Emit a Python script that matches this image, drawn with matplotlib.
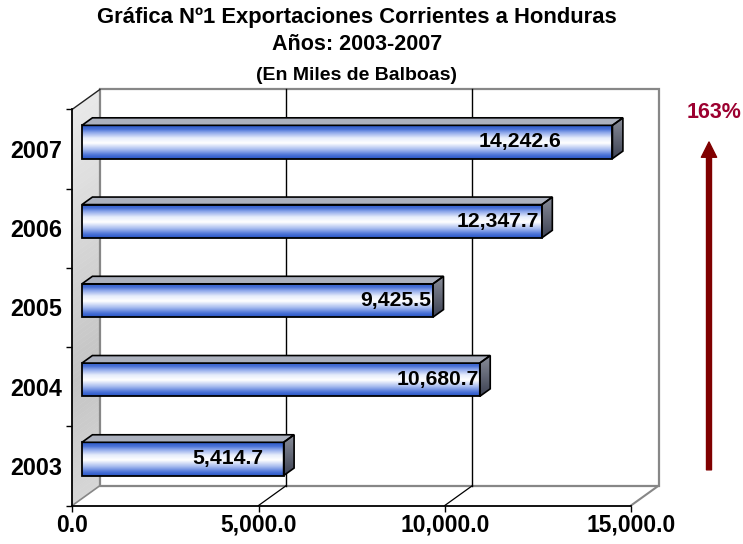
import matplotlib.pyplot as plt
import numpy as np
from matplotlib.colors import LinearSegmentedColormap
from matplotlib.patches import Polygon, Rectangle
from matplotlib.ticker import FuncFormatter
from matplotlib.transforms import blended_transform_factory

# datos
years = ['2003', '2004', '2005', '2006', '2007']
valores = [5414.7, 10680.7, 9425.5, 12347.7, 14242.6]
x_ticks = [0, 5000, 10000, 15000]
titulo = ['Gráfica Nº1 Exportaciones Corrientes a Honduras',
          'Años: 2003-2007',
          '(En Miles de Balboas)']

# separacion de las etiquetas respecto al final de la barra (px)
label_gap = [20, 1, 2, 3, 51]

plt.rcParams['font.family'] = ['Liberation Sans', 'DejaVu Sans']
plt.rcParams['font.weight'] = 'bold'

W, H = 743, 544
fig = plt.figure(figsize=(W / 100, H / 100), dpi=100)
ax = fig.add_axes([72.3 / W, 1 - 505.5 / H, (631 - 72.3) / W, (505.5 - 109.3) / H])
ax.patch.set_visible(False)

n = len(years)
xmax = x_ticks[-1]
DX, DY = 740, 0.25       # profundidad del efecto 3D
f1, f2 = 0.35, 0.73      # posicion de las barras en la profundidad
bh = 0.42

# pared izquierda con degradado (franjas)
wall_cmap = LinearSegmentedColormap.from_list(
    'wall', [(0, '#d6d6d6'), (0.3, '#c4c4c4'), (0.6, '#d4d4d4'), (1, '#e9e9e9')])
ys = np.linspace(0, n, 80)
for k in range(len(ys) - 1):
    ya, yb = ys[k], ys[k + 1]
    ax.add_patch(Polygon([(0, ya), (0, yb), (DX, yb + DY), (DX, ya + DY)], closed=True,
                         facecolor=wall_cmap(ya / n), edgecolor=wall_cmap(ya / n), lw=0.3,
                         zorder=0.5, clip_on=False))

# suelo y pared del fondo
ax.add_patch(Polygon([(0, 0), (xmax, 0), (xmax + DX, DY), (DX, DY)], closed=True,
                     facecolor='white', edgecolor='none', zorder=0.4, clip_on=False))
ax.add_patch(Rectangle((DX, DY), xmax, n, facecolor='white', edgecolor='#878787',
                       lw=1.6, zorder=0.6, clip_on=False))
ax.plot([0, DX], [0, DY], color='#878787', lw=1.2, clip_on=False, zorder=0.7)
ax.plot([xmax, xmax + DX], [0, DY], color='#878787', lw=1.5, clip_on=False, zorder=0.7)
ax.plot([0, DX], [n, n + DY], color='#222222', lw=1.0, clip_on=False, zorder=0.7)
for t in x_ticks[1:-1]:
    ax.plot([t + DX, t + DX], [DY, n + DY], color='black', lw=1.0, clip_on=False, zorder=0.8)
    ax.plot([t, t + DX], [0, DY], color='black', lw=0.9, clip_on=False, zorder=0.8)

# barras
bar_cmap = LinearSegmentedColormap.from_list(
    'bar', [(0.0, '#2553c4'), (0.12, '#4d74d8'), (0.28, '#a7bbef'), (0.47, '#ffffff'),
            (0.62, '#e6ecfb'), (0.78, '#8ea7ea'), (0.88, '#4a72d6'), (1.0, '#2a58c8')])
side_cmap = LinearSegmentedColormap.from_list('side', ['#3c4152', '#8a8e9a'])
grad = np.linspace(0, 1, 256).reshape(-1, 1)
ddx, ddy = (f2 - f1) * DX, (f2 - f1) * DY

for i, v in enumerate(valores):
    x0 = f1 * DX
    x1 = v + f1 * DX
    y0 = i + 0.5 - bh / 2 + f1 * DY
    ax.imshow(grad, cmap=bar_cmap, origin='lower', extent=[x0, x1, y0, y0 + bh],
              aspect='auto', zorder=3)
    ax.add_patch(Rectangle((x0, y0), v, bh, facecolor='none', edgecolor='black', lw=1.3, zorder=4))
    ax.add_patch(Polygon([(x0, y0 + bh), (x1, y0 + bh), (x1 + ddx, y0 + bh + ddy),
                          (x0 + ddx, y0 + bh + ddy)], closed=True,
                         facecolor='#acb1be', edgecolor='black', lw=1.2, zorder=4))
    side = Polygon([(x1, y0), (x1 + ddx, y0 + ddy), (x1 + ddx, y0 + bh + ddy), (x1, y0 + bh)],
                   closed=True, facecolor='none', edgecolor='black', lw=1.2, zorder=4)
    ax.add_patch(side)
    sim = ax.imshow(grad, cmap=side_cmap, origin='lower',
                    extent=[x1, x1 + ddx, y0, y0 + bh + ddy], aspect='auto', zorder=3)
    sim.set_clip_path(side)
    ax.annotate(f'{v:,.1f}', xy=(x1, i + 0.5 + f1 * DY), xytext=(-label_gap[i] * 0.72, 0),
                textcoords='offset points', ha='right', va='center',
                fontsize=15.2, fontweight='bold', zorder=5)

ax.set_xlim(0, xmax)
ax.set_ylim(0, n)

# ejes
for s in ['top', 'right']:
    ax.spines[s].set_visible(False)
for s in ['left', 'bottom']:
    ax.spines[s].set_color('black')
    ax.spines[s].set_linewidth(1.3)
    ax.spines[s].set_zorder(2)
ax.set_xticks(x_ticks)
ax.xaxis.set_major_formatter(FuncFormatter(lambda x, p: f'{x:,.1f}'))
ax.tick_params(axis='x', length=4.3, width=1, pad=1.5, labelsize=16.5)
ax.set_yticks(range(n + 1))
ax.set_yticklabels([])
ax.set_yticks([i + 0.5 for i in range(n)], minor=True)
ax.set_yticklabels(years, minor=True)
ax.tick_params(axis='y', which='major', length=4.3, width=1)
ax.tick_params(axis='y', which='minor', length=0, pad=7, labelsize=16.8)
for lab in ax.get_xticklabels() + ax.get_yticklabels(minor=True):
    lab.set_fontweight('bold')

# flecha de crecimiento
crec = (valores[-1] / valores[0] - 1) * 100
trans = blended_transform_factory(fig.transFigure, ax.transData)
ax.annotate('', xy=(709 / W, n - 0.5 + f1 * DY), xytext=(709 / W, 0.45),
            xycoords=trans, textcoords=trans, annotation_clip=False,
            arrowprops=dict(width=3.6, headwidth=11, headlength=11, color='#800000', shrink=0))
fig.text(714 / W, 1 - 113 / H, f'{crec:.0f}%', ha='center', va='center',
         fontsize=15.5, fontweight='bold', color='#9c0030')

# titulo
for txt, yp, fs in zip(titulo, [17, 45, 76], [15.8, 15.5, 14]):
    fig.text(357 / W, 1 - yp / H, txt, ha='center', va='center', fontsize=fs, fontweight='bold')

fig.savefig('out.png', dpi=100)
